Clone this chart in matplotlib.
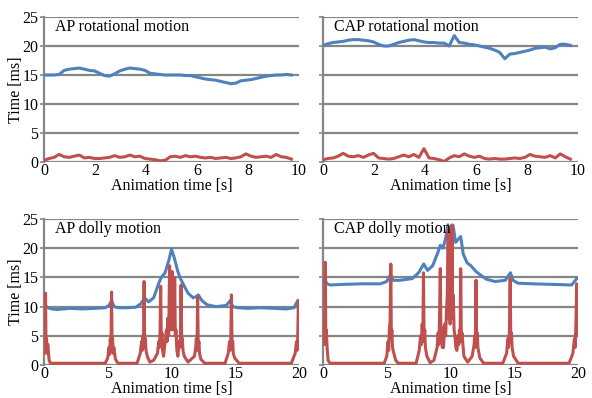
import matplotlib
matplotlib.use('Agg')
import matplotlib.pyplot as plt
import numpy as np

plt.rcParams['font.family'] = ['Liberation Serif', 'DejaVu Serif']
plt.rcParams['font.size'] = 11.5

# ---- rotational motion (sampled about every 0.2 s) ----
rot_t = np.linspace(0, 9.7, 50)
ap_rot_blue = [15.0, 15.0, 15.0, 15.1, 15.8, 16.0, 16.1, 16.2, 16.0, 15.8,
               15.7, 15.3, 14.9, 14.8, 15.2, 15.7, 16.0, 16.2, 16.1, 16.0,
               15.8, 15.3, 15.2, 15.1, 15.0, 15.0, 15.0, 15.0, 14.9, 14.9,
               14.7, 14.5, 14.3, 14.2, 14.1, 13.9, 13.7, 13.5, 13.6, 14.0,
               14.1, 14.2, 14.4, 14.6, 14.8, 14.9, 15.0, 15.0, 15.1, 15.0]
ap_rot_red = [0.3, 0.6, 0.8, 1.3, 0.9, 0.8, 1.0, 1.2, 0.7, 0.8,
              0.6, 0.6, 0.7, 0.8, 1.1, 0.8, 0.9, 1.2, 0.9, 1.0,
              0.6, 0.5, 0.4, 0.2, 0.3, 0.9, 1.0, 0.8, 1.1, 0.9,
              1.0, 0.8, 0.7, 0.8, 0.6, 0.7, 0.8, 0.6, 0.7, 0.9,
              1.4, 1.0, 0.8, 0.9, 1.0, 0.8, 1.3, 0.9, 0.8, 0.5]
cap_rot_blue = [20.1, 20.4, 20.6, 20.7, 20.8, 21.0, 21.1, 21.1, 21.0, 20.9,
                20.7, 20.3, 20.0, 20.0, 20.3, 20.6, 20.8, 21.0, 21.1, 20.9,
                20.7, 20.6, 20.6, 20.5, 20.5, 20.0, 21.8, 20.6, 20.5, 20.3,
                20.2, 20.0, 19.8, 19.6, 19.3, 18.9, 17.8, 18.6, 18.7, 18.9,
                19.1, 19.3, 19.6, 19.7, 19.8, 19.5, 19.7, 20.3, 20.3, 20.1]
cap_rot_red = [0.4, 0.6, 0.7, 1.0, 1.5, 1.0, 0.9, 1.1, 0.8, 1.2,
               1.5, 0.7, 0.6, 0.5, 0.6, 0.9, 1.2, 0.9, 1.3, 0.8,
               2.3, 0.7, 0.6, 0.4, 0.1, 0.7, 1.1, 0.9, 1.4, 1.0,
               0.8, 1.0, 0.6, 0.5, 0.6, 0.5, 0.5, 0.6, 0.7, 0.6,
               0.8, 1.3, 1.0, 0.9, 0.8, 1.1, 0.7, 1.4, 0.9, 0.5]

# ---- dolly motion ----
ap_dol_blue_t = [0, 0.1, 0.3, 0.6, 1.0, 2, 3, 4, 4.8, 5.1, 5.3, 5.5, 5.8, 6.5, 7.2,
                 7.6, 7.9, 8.2, 8.6, 9.0, 9.2, 9.5, 9.8, 10.0, 10.2, 10.5, 10.7,
                 11.0, 11.3, 11.7, 12.0, 12.1, 12.4, 12.8, 13.5, 14.3, 14.6, 14.8,
                 15.2, 16, 17, 18, 19, 19.6, 19.9]
ap_dol_blue = [10.5, 10.2, 9.8, 9.6, 9.5, 9.7, 9.6, 9.7, 9.8, 10.2, 11.0, 10.0, 9.8,
               9.8, 9.9, 10.5, 11.5, 10.8, 11.5, 14.0, 15.0, 15.8, 18.0, 19.8, 18.5,
               16.0, 14.8, 13.5, 12.3, 11.5, 11.8, 12.0, 11.0, 10.3, 10.0, 10.2,
               11.0, 10.0, 9.8, 9.7, 9.8, 9.7, 9.6, 9.8, 11.0]
ap_dol_red_t = [0, 0.04, 0.08, 0.12, 0.16, 0.2, 0.24, 0.3, 0.4, 0.5,
                4.8, 5.0, 5.1, 5.15, 5.2, 5.25, 5.3, 5.34, 5.38, 5.42, 5.48, 5.6, 5.8,
                7.3, 7.55, 7.65, 7.7, 7.75, 7.8, 7.85, 7.9, 7.95, 8.0, 8.1, 8.3, 8.6,
                8.9, 9.0, 9.05, 9.1, 9.15, 9.2, 9.25, 9.3, 9.38, 9.5, 9.6, 9.65, 9.7,
                9.78, 9.85, 9.9, 9.95, 10.0, 10.05, 10.1, 10.15, 10.2, 10.25, 10.3,
                10.35, 10.42, 10.5, 10.6, 10.65, 10.7, 10.75, 10.8, 10.85, 10.9,
                11.0, 11.3,
                11.8, 11.9, 11.95, 12.0, 12.05, 12.1, 12.15, 12.2, 12.3, 12.6,
                14.2, 14.45, 14.55, 14.6, 14.65, 14.7, 14.75, 14.8, 14.85, 14.95, 15.3,
                19.4, 19.7, 19.8, 19.85, 19.9, 19.95, 20.0]
ap_dol_red = [4.5, 2.0, 5.0, 12.3, 3.0, 4.5, 2.0, 3.5, 0.8, 0.3,
              0.3, 1.2, 3.0, 1.8, 4.5, 2.5, 12.5, 3.0, 4.5, 2.0, 3.0, 1.0, 0.3,
              0.3, 2.0, 4.0, 2.5, 5.0, 3.0, 14.3, 3.0, 4.5, 2.5, 1.5, 0.5, 0.8,
              2.0, 4.0, 3.0, 5.5, 13.5, 4.0, 5.5, 2.5, 1.5, 4.0, 6.0, 4.0, 8.0,
              5.0, 17.0, 7.0, 10.0, 6.0, 16.0, 8.0, 10.0, 6.0, 15.0, 5.0,
              6.0, 2.5, 1.5, 4.0, 3.0, 5.0, 13.7, 4.0, 4.5, 2.5,
              1.5, 0.5,
              1.5, 3.0, 4.5, 2.5, 11.7, 3.0, 4.0, 2.0, 1.0, 0.3,
              0.3, 2.0, 4.0, 2.5, 4.5, 12.0, 3.0, 4.0, 2.0, 1.2, 0.3,
              0.3, 2.0, 4.0, 2.5, 4.5, 11.0, 4.0]
cap_dol_blue_t = [0, 0.1, 0.3, 0.6, 1.5, 3, 4.5, 5.0, 5.3, 5.5, 6, 7, 7.5, 7.9, 8.2,
                  8.6, 9.0, 9.2, 9.4, 9.6, 9.8, 9.9, 10.0, 10.2, 10.4, 10.6, 10.8,
                  11.0, 11.3, 11.6, 12.0, 12.3, 12.8, 13.5, 14.3, 14.7, 14.9, 15.3,
                  16.5, 18, 19.5, 19.9]
cap_dol_blue = [14.5, 15.0, 13.9, 13.7, 13.8, 13.9, 13.9, 14.3, 15.5, 14.5, 14.5,
                14.8, 15.8, 17.3, 16.2, 17.0, 19.2, 20.5, 20.0, 21.5, 24.0, 22.0,
                23.0, 23.9, 21.0, 21.5, 22.0, 19.0, 17.5, 17.0, 16.0, 15.5, 14.7,
                14.3, 14.5, 15.8, 14.5, 14.0, 13.9, 13.8, 13.7, 14.8]
cap_dol_red_t = [0, 0.04, 0.08, 0.13, 0.18, 0.22, 0.26, 0.32, 0.4, 0.55,
                 4.8, 5.0, 5.1, 5.15, 5.2, 5.26, 5.32, 5.36, 5.4, 5.45, 5.5, 5.7, 5.9,
                 7.3, 7.55, 7.65, 7.72, 7.78, 7.83, 7.88, 7.93, 7.98, 8.03, 8.15, 8.4, 8.7,
                 8.95, 9.03, 9.08, 9.13, 9.2, 9.25, 9.3, 9.35, 9.45, 9.55, 9.62, 9.68,
                 9.75, 9.82, 9.87, 9.92, 9.97, 10.02, 10.07, 10.12, 10.17, 10.22, 10.28,
                 10.35, 10.42, 10.5, 10.6, 10.65, 10.7, 10.75, 10.8, 10.85, 10.9,
                 11.05, 11.35,
                 11.7, 11.85, 11.9, 11.95, 12.0, 12.05, 12.1, 12.15, 12.3, 12.6,
                 14.1, 14.4, 14.5, 14.55, 14.62, 14.68, 14.73, 14.78, 14.83, 14.95, 15.3,
                 19.3, 19.6, 19.72, 19.77, 19.83, 19.9, 19.97]
cap_dol_red = [7.5, 4.0, 6.5, 3.5, 17.6, 4.5, 6.0, 3.0, 0.8, 0.3,
               0.3, 1.5, 4.0, 2.5, 6.0, 7.5, 17.3, 4.5, 6.0, 3.0, 2.5, 0.8, 0.3,
               0.3, 2.5, 5.0, 3.5, 7.0, 4.0, 15.8, 4.5, 6.0, 3.0, 1.5, 0.4, 0.8,
               3.0, 5.5, 3.5, 7.0, 16.5, 4.5, 6.5, 3.0, 3.0, 7.0, 5.0, 9.0,
               12.0, 23.1, 8.0, 11.0, 7.0, 13.0, 9.0, 24.0, 8.0, 12.0, 6.0,
               5.0, 3.0, 2.5, 5.0, 3.5, 6.0, 4.0, 16.5, 4.5, 5.5,
               1.5, 0.5,
               1.5, 3.5, 5.0, 3.0, 14.5, 4.0, 5.5, 3.0, 1.2, 0.3,
               0.3, 2.0, 4.5, 3.0, 6.0, 14.8, 4.0, 5.5, 3.0, 1.5, 0.3,
               0.3, 2.0, 4.5, 3.0, 6.5, 13.9, 5.0]

panels = [
    ('AP rotational motion', rot_t, ap_rot_blue, rot_t, ap_rot_red, 10, [0, 2, 4, 6, 8, 10]),
    ('CAP rotational motion', rot_t, cap_rot_blue, rot_t, cap_rot_red, 10, [0, 2, 4, 6, 8, 10]),
    ('AP dolly motion', ap_dol_blue_t, ap_dol_blue, ap_dol_red_t, ap_dol_red, 20, [0, 5, 10, 15, 20]),
    ('CAP dolly motion', cap_dol_blue_t, cap_dol_blue, cap_dol_red_t, cap_dol_red, 20, [0, 5, 10, 15, 20]),
]
positions = [
    [44 / 592, 1 - 162 / 398, 255 / 592, 145 / 398],
    [323 / 592, 1 - 162 / 398, 255 / 592, 145 / 398],
    [44 / 592, 1 - 365 / 398, 255 / 592, 146 / 398],
    [323 / 592, 1 - 365 / 398, 255 / 592, 146 / 398],
]

blue = '#4F81BD'
red = '#C0504D'
grid_c = '#868686'

fig = plt.figure(figsize=(5.92, 3.98), dpi=100)
for i, (title, bt, bv, rt, rv, xmax, xt) in enumerate(panels):
    ax = fig.add_axes(positions[i])
    for y in range(0, 30, 5):
        ax.axhline(y, color=grid_c, lw=1.6, zorder=1)
    ax.plot(bt, bv, color=blue, lw=2.2, zorder=3)
    ax.plot(rt, rv, color=red, lw=2.2, zorder=3)
    ax.set_xlim(0, xmax)
    ax.set_ylim(0, 25)
    ax.set_xticks(xt)
    ax.set_yticks([0, 5, 10, 15, 20, 25])
    for s in ['top', 'right', 'bottom']:
        ax.spines[s].set_visible(False)
    ax.spines['left'].set_color(grid_c)
    ax.spines['left'].set_linewidth(1.6)
    ax.tick_params(axis='x', length=0, pad=1)
    ax.tick_params(axis='y', length=3, color=grid_c, width=1.2, pad=1)
    if i % 2 == 1:
        ax.set_yticklabels([])
    else:
        ax.set_ylabel('Time [ms]', labelpad=-1)
    ax.set_xlabel('Animation time [s]', labelpad=-1)
    ax.text(0.043, 0.985, title, transform=ax.transAxes, ha='left', va='top', zorder=4)

fig.savefig('out.png', dpi=100)
